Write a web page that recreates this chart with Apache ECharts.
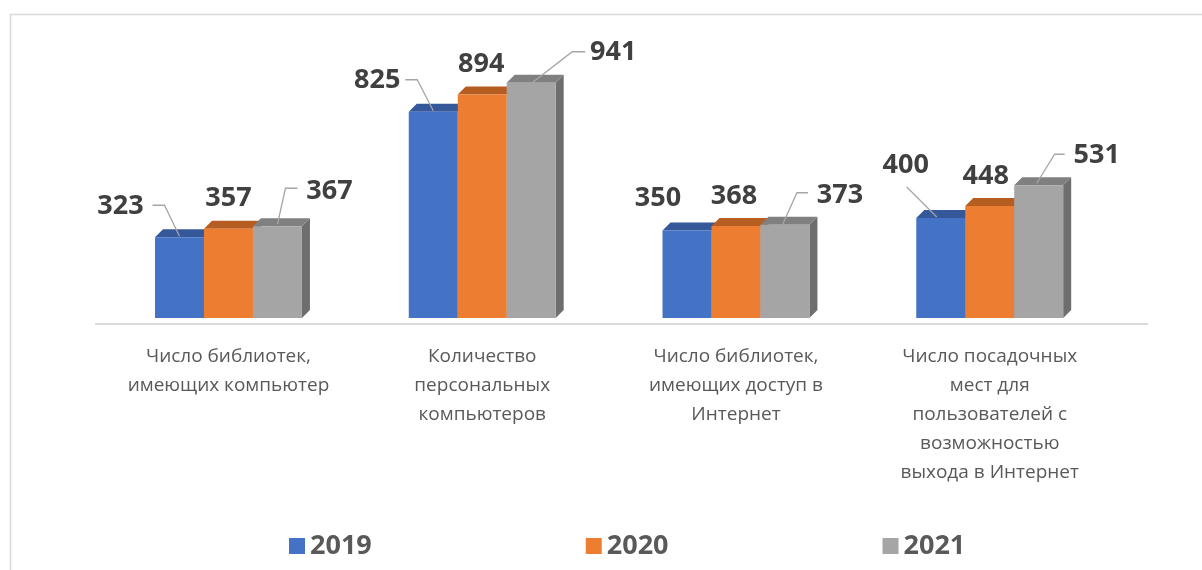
<!DOCTYPE html>
<html>
<head>
<meta charset="utf-8">
<script src="https://cdn.jsdelivr.net/npm/echarts@6/dist/echarts.min.js"></script>
<style>
  html, body { margin: 0; padding: 0; background: #fff; }
  #chart { width: 1202px; height: 570px; }
</style>
</head>
<body>
<div id="chart"></div>
<script>
// категории и значения
const categories = [
    'Число библиотек,\nимеющих компьютер',
    'Количество\nперсональных\nкомпьютеров',
    'Число библиотек,\nимеющих доступ в\nИнтернет',
    'Число посадочных\nмест для\nпользователей с\nвозможностью\nвыхода в Интернет'
];
const years = ['2019', '2020', '2021'];
const values2019 = [323, 825, 350, 400];
const values2020 = [357, 894, 368, 448];
const values2021 = [367, 941, 373, 531];

// размещение подписей (смещение от верхней грани столбца) и выноски
const labels2019 = [
    { dx: -59, dy: -31, line: [[-27, -32], [-15, -32], [0, -1]] },
    { dx: -56, dy: -31, line: [[-28, -32], [-16, -32], [0, -1]] },
    { dx: -29, dy: -32 },
    { dx: -35, dy: -53, line: [[-34, -31], [-4, -1]] }
];
const labels2020 = [
    { dx: 0, dy: -30 },
    { dx: -1, dy: -30 },
    { dx: -2, dy: -30 },
    { dx: -4, dy: -30 }
];
const labels2021 = [
    { dx: 52, dy: -35, line: [[20, -38], [8, -38], [0, -2]] },
    { dx: 82, dy: -30, line: [[54, -31], [41, -31], [1, 0]] },
    { dx: 55, dy: -29, line: [[23, -32], [12, -32], [-2, -1]] },
    { dx: 58, dy: -30, line: [[26, -31], [16, -31], [-2, -2]] }
];

const palette = [
    { front: '#4472C4', top: '#34589a', side: '#2f5190' },
    { front: '#ED7D31', top: '#b65e22', side: '#ad5820' },
    { front: '#A5A5A5', top: '#808080', side: '#6e6e6e' }
];

const DEPTH = 8;   // глубина 3D
const LIFT = 6;    // столбцы стоят чуть выше линии оси

function make3dBar(seriesIdx, layouts) {
    const c = palette[seriesIdx];
    return function(params, api) {
        const i = api.value(0);
        const v = api.value(1);
        const base = api.coord([i, 0]);
        const tip = api.coord([i, v]);
        const band = api.size([1, 0])[0];
        const w = band * 0.193;
        const cx = base[0] + (seriesIdx - 1) * w;
        const x0 = cx - w / 2, x1 = cx + w / 2;
        const yb = base[1] - LIFT, yt = tip[1] - LIFT;
        const children = [
            { type: 'polygon', shape: { points: [[x1, yb], [x1 + DEPTH, yb - DEPTH], [x1 + DEPTH, yt - DEPTH], [x1, yt]] },
              style: { fill: c.side } },
            { type: 'polygon', shape: { points: [[x0, yt], [x0 + DEPTH, yt - DEPTH], [x1 + DEPTH, yt - DEPTH], [x1, yt]] },
              style: { fill: c.top } },
            { type: 'rect', shape: { x: x0, y: yt, width: w, height: yb - yt },
              style: { fill: c.front } }
        ];
        const lay = layouts[i];
        if (lay.line) {
            children.push({
                type: 'polyline',
                shape: { points: lay.line.map(p => [cx + p[0], yt + p[1]]) },
                style: { stroke: '#a6a6a6', lineWidth: 1.3, fill: null }
            });
        }
        children.push({
            type: 'text',
            x: cx + lay.dx,
            y: yt + lay.dy,
            style: {
                text: String(v),
                fill: '#404040',
                font: 'bold 27px "Open Sans", sans-serif',
                align: 'center',
                verticalAlign: 'middle'
            }
        });
        return { type: 'group', children: children };
    };
}

const seriesValues = [values2019, values2020, values2021];
const seriesLabels = [labels2019, labels2020, labels2021];

let chart = echarts.init(document.getElementById('chart'));
chart.setOption({
    animation: false,
    backgroundColor: '#fff',
    graphic: [{
        // рамка области диаграммы
        type: 'polyline',
        shape: { points: [[10.5, 570], [10.5, 14.5], [1202, 14.5]] },
        style: { stroke: '#d9d9d9', lineWidth: 1.5, fill: null },
        silent: true
    }, {
        // передний край "пола" 3D-диаграммы
        type: 'line',
        shape: { x1: 95, y1: 324, x2: 1148, y2: 324 },
        style: { stroke: '#d9d9d9', lineWidth: 2 },
        silent: true
    }],
    grid: { left: 101.6, right: 85.4, top: 74, bottom: 246 },
    legend: {
        data: years,
        left: 284,
        top: 525,
        icon: 'rect',
        itemWidth: 16,
        itemHeight: 16,
        itemGap: 214,
        textStyle: {
            color: '#595959',
            fontFamily: 'Open Sans',
            fontWeight: 'bold',
            fontSize: 27,
            lineHeight: 32
        }
    },
    xAxis: {
        type: 'category',
        data: categories,
        axisTick: { show: false },
        axisLine: { show: false },
        axisLabel: {
            color: '#595959',
            fontFamily: 'Open Sans',
            fontSize: 19,
            lineHeight: 29,
            margin: 18,
            interval: 0
        }
    },
    yAxis: {
        type: 'value',
        min: 0,
        max: 1000,
        show: false,
        splitLine: { show: false }
    },
    series: years.map((y, k) => ({
        name: y,
        type: 'custom',
        itemStyle: { color: palette[k].front },
        encode: { x: 0, y: 1 },
        data: seriesValues[k].map((v, i) => [i, v]),
        renderItem: make3dBar(k, seriesLabels[k]),
        z: 2 + k
    }))
});
</script>
</body>
</html>
